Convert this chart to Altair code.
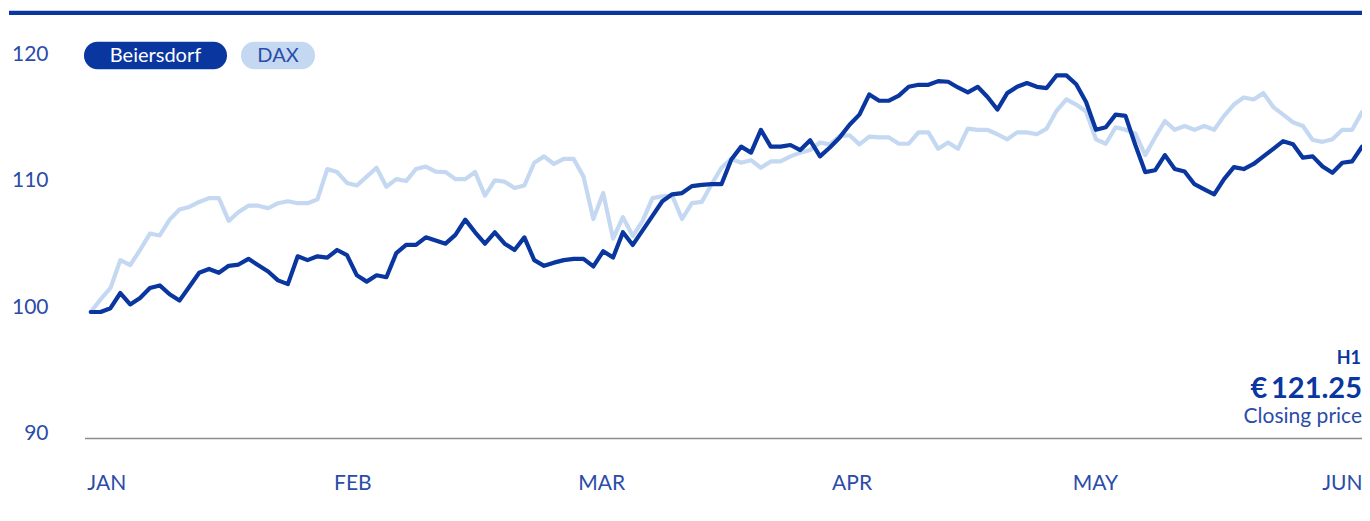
import altair as alt
import pandas as pd

# ---- data ----
beiersdorf = [
    100.0, 100.0, 100.3, 101.5, 100.6, 101.1, 101.9, 102.1, 101.4, 100.9,
    102.0, 103.1, 103.4, 103.1, 103.65, 103.75, 104.2, 103.7, 103.2, 102.5,
    102.2, 104.4, 104.1, 104.4, 104.3, 104.9, 104.5, 102.9, 102.4, 102.9,
    102.75, 104.65, 105.3, 105.3, 105.9, 105.65, 105.4, 106.1, 107.3, 106.3,
    105.4, 106.3, 105.4, 104.9, 105.9, 104.1, 103.65, 103.9, 104.1, 104.2,
    104.2, 103.6, 104.8, 104.3, 106.3, 105.3, 106.45, 107.6, 108.75, 109.3,
    109.4, 109.95, 110.05, 110.1, 110.1, 112.06, 113.07, 112.6, 114.4, 113.07,
    113.07, 113.2, 112.8, 113.57, 112.3, 113.0, 113.8, 114.8, 115.6, 117.2,
    116.7, 116.7, 117.1, 117.8, 117.96, 117.96, 118.25, 118.2, 117.75, 117.36,
    117.8, 117.0, 116.0, 117.3, 117.8, 118.1, 117.8, 117.7, 118.7, 118.7,
    118.0, 116.6, 114.4, 114.6, 115.6, 115.5, 113.2, 111.06, 111.2, 112.4,
    111.3, 111.1, 110.1, 109.7, 109.3, 110.5, 111.45, 111.3, 111.7, 112.3,
    112.9, 113.5, 113.25, 112.2, 112.3, 111.5, 111.0, 111.8, 111.9, 113.07,
]
dax = [
    100.0, 101.0, 101.9, 104.1, 103.7, 104.9, 106.2, 106.05, 107.3, 108.1,
    108.3, 108.7, 109.0, 109.0, 107.2, 107.9, 108.4, 108.4, 108.2, 108.6,
    108.75, 108.6, 108.6, 108.9, 111.3, 111.06, 110.2, 110.0, 110.7, 111.4,
    109.9, 110.5, 110.35, 111.3, 111.5, 111.1, 111.06, 110.5, 110.5, 111.06,
    109.2, 110.4, 110.3, 109.8, 110.0, 111.8, 112.3, 111.7, 112.1, 112.1,
    110.7, 107.35, 109.4, 105.8, 107.5, 106.0, 107.2, 109.0, 109.15, 109.2,
    107.35, 108.6, 108.7, 110.1, 111.4, 112.1, 111.8, 112.0, 111.4, 111.9,
    111.9, 112.3, 112.6, 112.8, 113.4, 113.25, 113.9, 113.97, 113.25, 113.86,
    113.8, 113.8, 113.3, 113.3, 114.2, 114.2, 112.9, 113.4, 112.9, 114.5,
    114.4, 114.4, 114.05, 113.65, 114.2, 114.2, 114.05, 114.5, 115.9, 116.8,
    116.4, 115.85, 113.65, 113.3, 114.6, 114.4, 114.1, 112.4, 113.8, 115.1,
    114.4, 114.7, 114.4, 114.7, 114.4, 115.5, 116.4, 116.96, 116.8, 117.3,
    116.2, 115.6, 115.0, 114.7, 113.6, 113.45, 113.65, 114.4, 114.4, 115.8,
]
series_names = ["Beiersdorf", "DAX"]
month_labels = ["JAN", "FEB", "MAR", "APR", "MAY", "JUN"]
month_positions = [-0.4, 26.55, 51.8, 77.2, 101.9, 129]
y_tick_values = [90, 100, 110, 120]
period_label = "H1"
price_label = "€\u2009121.25"
price_caption = "Closing price"

# ---- styling ----
DARK = "#0a36a0"
LIGHT = "#c5d8f2"
LABEL = "#2b4ca8"
FONT = "Lato"
W, H = 1354, 505

n = len(beiersdorf)
df = pd.DataFrame({
    "day": list(range(n)) * 2,
    "value": beiersdorf + dax,
    "series": [series_names[0]] * n + [series_names[1]] * n,
})

xscale = alt.Scale(domain=[-8.4, 129.0], nice=False, zero=False)
yscale = alt.Scale(domain=[84.11, 124.03], nice=False, zero=False)

month_expr = "[" + ",".join(f"'{m}'" for m in month_labels) + "][indexof([" + \
    ",".join(str(p) for p in month_positions) + "], datum.value)]"

x_axis = alt.Axis(
    values=month_positions, labelExpr=month_expr, domain=False, ticks=False,
    tickSize=0, grid=False, labelFlush=120, labelFont=FONT, labelFontSize=21,
    labelColor=LABEL, labelPadding=0, labelBaseline="alphabetic", offset=-24,
    title=None, orient="bottom",
)

base = alt.Chart(df)
dax_line = base.transform_filter(alt.datum.series == series_names[1]).mark_line(
    color=LIGHT, strokeWidth=4.2, strokeJoin="round", strokeCap="round"
).encode(
    x=alt.X("day:Q", scale=xscale, axis=x_axis),
    y=alt.Y("value:Q", scale=yscale, axis=None),
)
bdf_line = base.transform_filter(alt.datum.series == series_names[0]).mark_line(
    color=DARK, strokeWidth=4.2, strokeJoin="round", strokeCap="round"
).encode(
    x=alt.X("day:Q", scale=xscale, axis=x_axis),
    y=alt.Y("value:Q", scale=yscale, axis=None),
)

ytick_df = pd.DataFrame({"v": y_tick_values, "label": [str(v) for v in y_tick_values]})
y_labels = alt.Chart(ytick_df).mark_text(
    align="right", baseline="alphabetic", dy=2, font=FONT, fontSize=21, color=LABEL
).encode(x=alt.value(40.5), y=alt.Y("v:Q", scale=yscale, axis=None), text="label:N")

baseline = alt.Chart(pd.DataFrame({"v": [min(y_tick_values)]})).mark_rule(
    color="#8c8c8c", strokeWidth=1.5
).encode(x=alt.value(77), x2=alt.value(W), y=alt.Y("v:Q", scale=yscale, axis=None))

top_rule = alt.Chart(pd.DataFrame({"a": [0]})).mark_rule(
    color=DARK, strokeWidth=4.3
).encode(x=alt.value(1), x2=alt.value(W), y=alt.value(4.9))

pill_b = alt.Chart(pd.DataFrame({"name": [series_names[0]]})).mark_rect(
    color=DARK, cornerRadius=13.5
).encode(x=alt.value(76), x2=alt.value(219), y=alt.value(33.7), y2=alt.value(61.3))
pill_b_text = alt.Chart(pd.DataFrame({"name": [series_names[0]]})).mark_text(
    align="center", baseline="middle", font=FONT, fontSize=20, color="white"
).encode(x=alt.value(147.5), y=alt.value(48), text="name:N")
pill_d = alt.Chart(pd.DataFrame({"name": [series_names[1]]})).mark_rect(
    color=LIGHT, cornerRadius=13.5
).encode(x=alt.value(233), x2=alt.value(307), y=alt.value(33.7), y2=alt.value(61.3))
pill_d_text = alt.Chart(pd.DataFrame({"name": [series_names[1]]})).mark_text(
    align="center", baseline="middle", font=FONT, fontSize=20, color=LABEL
).encode(x=alt.value(270), y=alt.value(48), text="name:N")

ann_h1 = alt.Chart(pd.DataFrame({"t": [period_label]})).mark_text(
    align="right", baseline="alphabetic", font=FONT, fontSize=18, fontWeight="bold", color=DARK
).encode(x=alt.value(W - 1), y=alt.value(356), text="t:N")
ann_price = alt.Chart(pd.DataFrame({"t": [price_label]})).mark_text(
    align="right", baseline="alphabetic", font=FONT, fontSize=29, fontWeight="bold", color=DARK
).encode(x=alt.value(W), y=alt.value(390), text="t:N")
ann_caption = alt.Chart(pd.DataFrame({"t": [price_caption]})).mark_text(
    align="right", baseline="alphabetic", font=FONT, fontSize=21, color=LABEL
).encode(x=alt.value(W), y=alt.value(415), text="t:N")

chart = alt.layer(
    top_rule, baseline, y_labels, dax_line, bdf_line,
    pill_b, pill_b_text, pill_d, pill_d_text, ann_h1, ann_price, ann_caption,
).properties(
    width=W, height=H, autosize=alt.AutoSizeParams(type="none"), padding=0,
    background="white",
).configure_view(stroke=None)

chart.save("out.html", embed_options={"renderer": "svg", "actions": False})
